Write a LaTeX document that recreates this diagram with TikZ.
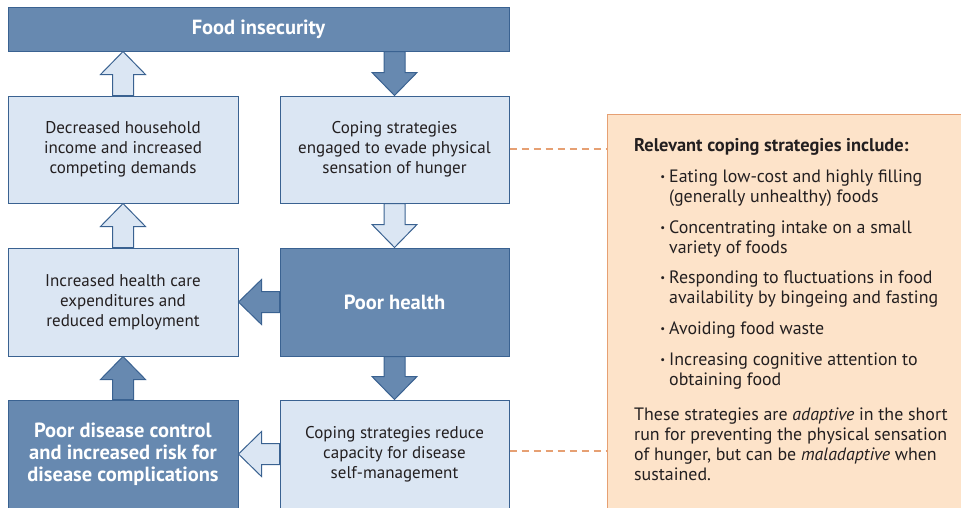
\documentclass[tikz,border=0pt]{standalone}
\usepackage{fontspec}
\setmainfont{PT Sans}
\usetikzlibrary{positioning,calc}

\definecolor{boxdark}{RGB}{103,137,176}
\definecolor{boxline}{RGB}{58,98,145}
\definecolor{boxlight}{RGB}{219,230,243}
\definecolor{peach}{RGB}{253,227,201}
\definecolor{peachline}{RGB}{230,160,115}
\definecolor{ink}{RGB}{35,31,32}

\tikzset{
    darkbox/.style={draw=boxline, fill=boxdark, text=white, line width=1pt, align=center,
        font=\fontsize{20.5}{22}\selectfont\bfseries},
    lightbox/.style={draw=boxline, fill=boxlight, text=ink, line width=1pt, align=center,
        font=\fontsize{17}{20}\selectfont},
    darkarrow/.style={draw=boxline, fill=boxdark, line width=1pt, line join=miter},
    lightarrow/.style={draw=boxline, fill=boxlight, line width=1pt, line join=miter},
    notebox/.style={draw=peachline, fill=peach, line width=1pt, anchor=north west},
    notetext/.style={text=ink, align=left, anchor=base west, inner sep=0pt,
        font=\fontsize{17.9}{20}\selectfont},
    leader/.style={draw=peachline, line width=1.2pt, dash pattern=on 7pt off 5pt},
}

% small bullet hung left of the item text
\newcommand{\itemdot}{\llap{\raisebox{2pt}{\scalebox{0.6}{\textbullet}}\hspace{4pt}}}

% fat block arrow: style, start, tip
\newcommand{\fatarrow}[3]{%
    \path ($(#3)!23pt!(#2)$) coordinate (hb);
    \draw[#1] ($(#2)!10.5pt!90:(#3)$) -- ($(hb)!10.5pt!90:(#3)$) -- ($(hb)!22.5pt!90:(#3)$) -- (#3)
        -- ($(hb)!22.5pt!-90:(#3)$) -- ($(hb)!10.5pt!-90:(#3)$) -- ($(#2)!10.5pt!-90:(#3)$) -- cycle;
}

\begin{document}
\begin{tikzpicture}[x=1pt, y=-1pt]
\useasboundingbox (0,0) rectangle (961,507);
\clip (0,0) rectangle (961,507);

% left and right columns
\node [darkbox, minimum width=501pt, minimum height=44pt] (fi) at (258.5,29) {Food insecurity};
\node [lightbox, minimum width=230pt, minimum height=107pt] (income) at (123,149.5)
    {Decreased household\\income and increased\\competing demands};
\node [lightbox, minimum width=229pt, minimum height=107pt] (hunger) at (394.5,149.5)
    {Coping strategies\\engaged to evade physical\\sensation of hunger};
\node [lightbox, minimum width=230pt, minimum height=108pt] (expend) at (123,302)
    {Increased health care\\expenditures and\\reduced employment};
\node [darkbox, minimum width=229pt, minimum height=108pt] (health) at (394.5,302) {Poor health};
\node [darkbox, minimum width=230pt, minimum height=108pt] (control) at (123,454)
    {Poor disease control\\and increased risk for\\disease complications};
\node [lightbox, minimum width=229pt, minimum height=108pt] (selfman) at (394.5,454)
    {Coping strategies reduce\\capacity for disease\\self-management};

% note panel
\node [notebox, minimum width=380pt, minimum height=410pt] (note) at (607,114) {};
\draw [leader] (hunger.east |- 0,149) -- (note.west |- 0,149);
\draw [leader] (selfman.east |- 0,451) -- (note.west |- 0,451);

\node [notetext, font=\fontsize{18.4}{20}\selectfont\bfseries] (head) at (634,151)
    {Relevant coping strategies include:};
\node [notetext] (cs1) at (669,202) {\itemdot Eating low-cost and highly filling\\(generally unhealthy) foods};
\node [notetext] (cs2) at (669,253) {\itemdot Concentrating intake on a small\\variety of foods};
\node [notetext] (cs3) at (669,303) {\itemdot Responding to fluctuations in food\\availability by bingeing and fasting};
\node [notetext] (cs4) at (669,334) {\itemdot Avoiding food waste};
\node [notetext] (cs5) at (669,385) {\itemdot Increasing cognitive attention to\\obtaining food};
\node [notetext] (para) at (634,480) {These strategies are \emph{adaptive} in the short\\run for preventing the physical sensation\\of hunger, but can be \emph{maladaptive} when\\sustained.};

% block arrows
\coordinate (upA) at (income.north |- fi.south);
\coordinate (dnA) at (hunger.north |- fi.south);
\fatarrow{lightarrow}{income.north}{upA}
\fatarrow{darkarrow}{dnA}{hunger.north}
\fatarrow{lightarrow}{expend.north}{income.south}
\fatarrow{lightarrow}{hunger.south}{health.north}
\fatarrow{darkarrow}{health.west}{expend.east}
\fatarrow{darkarrow}{health.south}{selfman.north}
\fatarrow{darkarrow}{control.north}{expend.south}
\fatarrow{lightarrow}{selfman.west}{control.east}
\end{tikzpicture}
\end{document}
